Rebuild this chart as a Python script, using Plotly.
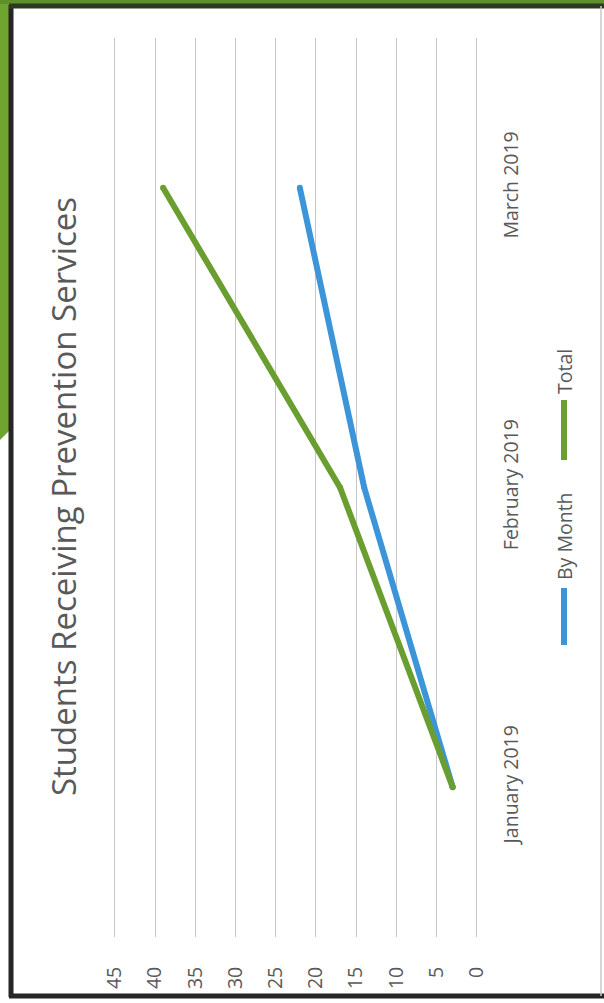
import plotly.graph_objects as go

W, H = 604, 1003

categories = ["January 2019", "February 2019", "March 2019"]
by_month = [3, 14, 22]
total = [3, 17, 39]
value_ticks = [0, 5, 10, 15, 20, 25, 30, 35, 40, 45]
title_text = "Students Receiving Prevention Services"
series_names = ["By Month", "Total"]
series_colors = ["#3b95d8", "#6b9e30"]

def px(x):
    return x / W

def py(y):
    return 1 - y / H

fig = go.Figure()
for name, vals, col in zip(series_names, [by_month, total], series_colors):
    fig.add_trace(go.Scatter(
        x=vals, y=categories, name=name, mode="lines+markers",
        line=dict(color=col, width=6),
        marker=dict(color=col, size=6, line=dict(width=0)),
        showlegend=False, hoverinfo="skip",
    ))

FONT = "Open Sans, Noto Sans, sans-serif"
tick_font = dict(family=FONT, size=19.5, color="#595959")

PXU = (476.8 - 114.8) / 45.0  # pixels per unit
xmax = 45.3
xmin = -0.04

fig.update_layout(
    width=W, height=H,
    margin=dict(l=0, r=0, t=0, b=0),
    paper_bgcolor="white",
    plot_bgcolor="rgba(0,0,0,0)",
    xaxis=dict(
        domain=[px(114.8 - (xmax - 45) * PXU), px(476.8 - xmin * PXU)],
        range=[xmax, xmin], autorange=False,
        tickvals=value_ticks, ticktext=[str(v) for v in value_ticks],
        tickangle=-90, tickfont=tick_font,
        showgrid=True, gridcolor="#c6c6cc", gridwidth=1,
        zeroline=True, zerolinecolor="#c6c6cc", zerolinewidth=1,
        showline=False,
        ticks="outside", ticklen=21, tickcolor="rgba(0,0,0,0)",
        automargin=False,
    ),
    yaxis=dict(
        domain=[py(937), py(38)],
        type="category", categoryorder="array", categoryarray=categories,
        range=[-0.5, 2.5], autorange=False,
        side="right", tickangle=-90, tickfont=tick_font,
        showgrid=False, zeroline=False, showline=False,
        ticks="outside", ticklen=16, tickcolor="rgba(0,0,0,0)",
        automargin=False,
    ),
)

shapes = []
# green slide background peeking outside the frame
shapes.append(dict(type="path", xref="paper", yref="paper",
                   path=f"M 0 1 L {px(10)} 1 L {px(10)} {py(430)} L 0 {py(440)} Z",
                   fillcolor="#6fa52e", line=dict(width=0), layer="below"))
shapes.append(dict(type="rect", xref="paper", yref="paper", x0=0, x1=1, y0=py(4), y1=1,
                   fillcolor="#5e8f2a", line=dict(width=0), layer="below"))
# frame
dark = "#262626"
shapes.append(dict(type="line", xref="paper", yref="paper", x0=px(11), x1=px(11), y0=py(997), y1=py(5),
                   line=dict(color=dark, width=5), layer="above"))
shapes.append(dict(type="line", xref="paper", yref="paper", x0=px(9), x1=px(604), y0=py(6), y1=py(6),
                   line=dict(color="#2d3a22", width=5), layer="above"))
shapes.append(dict(type="line", xref="paper", yref="paper", x0=px(9), x1=px(604), y0=py(996), y1=py(996),
                   line=dict(color=dark, width=5), layer="above"))
shapes.append(dict(type="line", xref="paper", yref="paper", x0=px(601), x1=px(601), y0=py(996), y1=py(6),
                   line=dict(color="#c8c8c8", width=1.5), layer="above"))

# legend samples
legend_x = 564
shapes.append(dict(type="line", xref="paper", yref="paper", x0=px(legend_x), x1=px(legend_x),
                   y0=py(645), y1=py(588), line=dict(color=series_colors[0], width=6)))
shapes.append(dict(type="line", xref="paper", yref="paper", x0=px(legend_x), x1=px(legend_x),
                   y0=py(460), y1=py(400), line=dict(color=series_colors[1], width=6)))
fig.update_layout(shapes=shapes)

ann_font = dict(family=FONT, size=19.5, color="#595959")
fig.add_annotation(x=px(legend_x), y=py(536), xref="paper", yref="paper", text=series_names[0],
                   textangle=-90, showarrow=False, font=ann_font, xanchor="center", yanchor="middle")
fig.add_annotation(x=px(legend_x), y=py(372), xref="paper", yref="paper", text=series_names[1],
                   textangle=-90, showarrow=False, font=ann_font, xanchor="center", yanchor="middle")
fig.add_annotation(x=px(63), y=py(497), xref="paper", yref="paper", text=title_text,
                   textangle=-90, showarrow=False,
                   font=dict(family=FONT, size=33, color="#595959"),
                   xanchor="center", yanchor="middle")

fig.write_html("out.html", config={"displayModeBar": False},
               post_script="document.body.style.margin='0px';document.body.style.overflow='hidden';")
